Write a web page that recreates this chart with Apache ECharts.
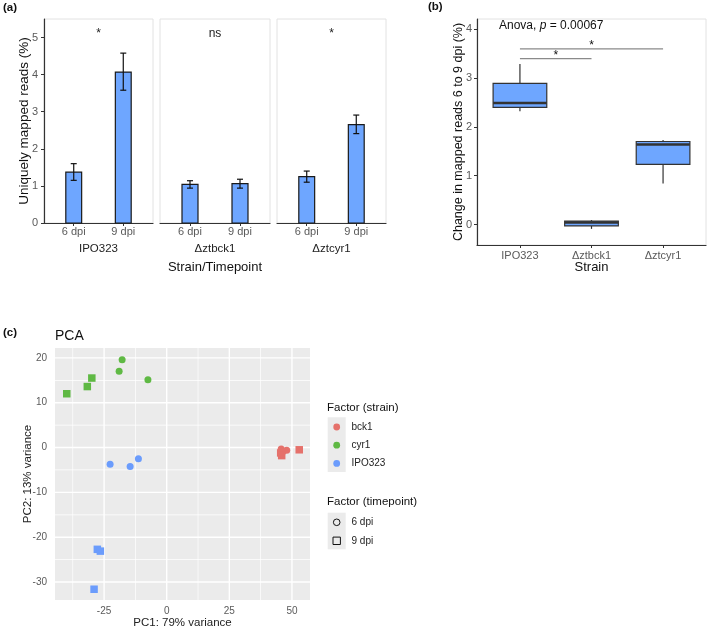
<!DOCTYPE html>
<html><head><meta charset="utf-8">
<script src="https://cdn.jsdelivr.net/npm/echarts@6/dist/echarts.min.js"></script>
<style>html,body{margin:0;padding:0;background:#fff}#c{width:709px;height:631px}</style>
</head><body><div id="c"></div>
<script>
// ---------- Panel (a) data ----------
const strains = ['IPO323', 'Δztbck1', 'Δztcyr1'];
const timepoints = ['6 dpi', '9 dpi'];
const readsMean = [[1.37, 4.07], [1.04, 1.06], [1.25, 2.65]];
const readsLow  = [[1.15, 3.58], [0.94, 0.94], [1.10, 2.41]];
const readsHigh = [[1.60, 4.58], [1.14, 1.18], [1.40, 2.91]];
const sigLabels = ['*', 'ns', '*'];
const sigLevel = 5.1;
const readsTicks = [0, 1, 2, 3, 4, 5];

// ---------- Panel (b) data ----------
const boxStrains = ['IPO323', 'Δztbck1', 'Δztcyr1'];
const boxMin    = [2.32, -0.09, 0.84];
const boxQ1     = [2.40, -0.03, 1.23];
const boxMedian = [2.49,  0.04, 1.64];
const boxQ3     = [2.89,  0.07, 1.70];
const boxMax    = [3.29,  0.09, 1.73];
const bracketFrom  = [1, 1];
const bracketTo    = [2, 3];
const bracketLevel = [3.40, 3.60];
const bracketLabel = ['*', '*'];
const changeTicks = [0, 1, 2, 3, 4];

// ---------- Panel (c) data ----------
const pcaStrain = ['cyr1','cyr1','cyr1','cyr1','cyr1','cyr1',
                   'IPO323','IPO323','IPO323','IPO323','IPO323','IPO323',
                   'bck1','bck1','bck1','bck1','bck1','bck1'];
const pcaTime = ['6 dpi','6 dpi','6 dpi','9 dpi','9 dpi','9 dpi',
                 '6 dpi','6 dpi','6 dpi','9 dpi','9 dpi','9 dpi',
                 '6 dpi','6 dpi','6 dpi','9 dpi','9 dpi','9 dpi'];
const pc1 = [-19.0, -17.8, -7.5, -39.9, -31.7, -29.9,
             -22.6, -14.6, -11.3, -27.7, -26.5, -29.0,
              45.7,  46.4, 47.9,  45.5,  45.9,  52.9];
const pc2 = [17.0, 19.6, 15.1, 12.0, 13.6, 15.5,
             -3.7, -4.2, -2.5, -22.7, -23.1, -31.6,
             -0.3, -0.9, -0.6, -1.2, -1.8, -0.5];
const legendStrains = ['bck1', 'cyr1', 'IPO323'];
const legendTimes = ['6 dpi', '9 dpi'];
const pc1Ticks = [-25, 0, 25, 50];
const pc1Minor = [-37.5, -12.5, 12.5, 37.5];
const pc2Ticks = [-30, -20, -10, 0, 10, 20];
const pc2Minor = [-25, -15, -5, 5, 15];

// ---------- styling ----------
const FONT = '"Liberation Sans", Arial, sans-serif';
const barFill = '#6ea6ff';
const tickColor = '#5a5a5a';
const axisColor = '#333';
const borderColor = '#e2e2e2';
const strainColors = {bck1: '#e5716b', cyr1: '#5fb944', IPO323: '#6b9cfc'};
const PX = [-44.6, 57.2], PY = [-34.0, 22.2];

const grids = [], xAxes = [], yAxes = [], series = [];
const facetLeft = [44, 160, 277], facetWidth = [109, 110, 109];

strains.forEach((s, i) => {
  grids.push({left: facetLeft[i], top: 19, width: facetWidth[i], height: 204,
    show: true, borderColor: borderColor, borderWidth: 1, backgroundColor: 'transparent'});
  xAxes.push({gridIndex: i, type: 'value', min: 0.4, max: 2.6,
    name: s, nameLocation: 'middle', nameGap: 20, nameMoveOverlap: false,
    nameTextStyle: {fontSize: 11.5, color: '#222', fontFamily: FONT},
    axisLine: {show: true, onZero: false, lineStyle: {color: axisColor, width: 1.2}},
    axisTick: {show: true, length: 3, customValues: [1, 2], lineStyle: {color: axisColor}},
    axisLabel: {customValues: [1, 2], formatter: v => timepoints[Math.round(v) - 1],
      color: tickColor, fontSize: 11, margin: 3, fontFamily: FONT},
    splitLine: {show: false}});
  yAxes.push({gridIndex: i, type: 'value', min: 0, max: 5.5,
    name: i === 0 ? 'Uniquely mapped reads (%)' : '', nameLocation: 'middle', nameGap: 13,
    nameMoveOverlap: false,
    nameTextStyle: {fontSize: 13.5, color: '#111', fontFamily: FONT},
    axisLine: {show: i === 0, onZero: false, lineStyle: {color: axisColor, width: 1.2}},
    axisTick: {show: i === 0, length: 3, customValues: readsTicks, lineStyle: {color: axisColor}},
    axisLabel: {show: i === 0, customValues: readsTicks, color: tickColor, fontSize: 11, margin: 6, fontFamily: FONT},
    splitLine: {show: false}});
  // bars
  series.push({type: 'custom', xAxisIndex: i, yAxisIndex: i, z: 2,
    data: timepoints.map((t, j) => [j + 1, readsMean[i][j]]),
    renderItem: (p, api) => {
      const x = api.value(0), y = api.value(1);
      const a = api.coord([x - 0.16, y]), b = api.coord([x + 0.16, 0]);
      return {type: 'rect', shape: {x: a[0], y: a[1], width: b[0] - a[0], height: b[1] - a[1]},
        style: {fill: barFill, stroke: '#1a1a1a', lineWidth: 1.2}};
    }});
  // error bars
  series.push({type: 'custom', xAxisIndex: i, yAxisIndex: i, z: 3,
    data: timepoints.map((t, j) => [j + 1, readsLow[i][j], readsHigh[i][j]]),
    renderItem: (p, api) => {
      const x = api.value(0);
      const lo = api.coord([x, api.value(1)]), hi = api.coord([x, api.value(2)]);
      const w = 3;
      const st = {stroke: '#111', lineWidth: 1.2};
      return {type: 'group', children: [
        {type: 'line', shape: {x1: lo[0], y1: lo[1], x2: hi[0], y2: hi[1]}, style: st},
        {type: 'line', shape: {x1: lo[0] - w, y1: lo[1], x2: lo[0] + w, y2: lo[1]}, style: st},
        {type: 'line', shape: {x1: hi[0] - w, y1: hi[1], x2: hi[0] + w, y2: hi[1]}, style: st}
      ]};
    }});
  // significance label
  series.push({type: 'custom', xAxisIndex: i, yAxisIndex: i, z: 3,
    data: [[1.5, sigLevel]],
    renderItem: (p, api) => {
      const c = api.coord([api.value(0), api.value(1)]);
      return {type: 'text', x: c[0], y: c[1],
        style: {text: sigLabels[i], fill: '#222', fontSize: 12, fontFamily: FONT,
          align: 'center', verticalAlign: 'middle', textAlign: 'center', textVerticalAlign: 'middle'}};
    }});
});

// ---------- Panel (b) ----------
grids.push({left: 477, top: 19, width: 229, height: 226, show: true,
  borderColor: borderColor, borderWidth: 1, backgroundColor: 'transparent'});
xAxes.push({gridIndex: 3, type: 'value', min: 0.4, max: 3.6,
  name: 'Strain', nameLocation: 'middle', nameGap: 16, nameMoveOverlap: false,
  nameTextStyle: {fontSize: 13, color: '#111', fontFamily: FONT},
  axisLine: {show: true, onZero: false, lineStyle: {color: axisColor, width: 1.2}},
  axisTick: {show: true, length: 3, customValues: [1, 2, 3], lineStyle: {color: axisColor}},
  axisLabel: {customValues: [1, 2, 3], formatter: v => boxStrains[Math.round(v) - 1],
    color: tickColor, fontSize: 11, margin: 5, fontFamily: FONT},
  splitLine: {show: false}});
yAxes.push({gridIndex: 3, type: 'value', min: -0.42, max: 4.21,
  name: 'Change in mapped reads 6 to 9 dpi (%)', nameLocation: 'middle', nameGap: 12,
  nameMoveOverlap: false,
  nameTextStyle: {fontSize: 12.5, color: '#111', fontFamily: FONT},
  axisLine: {show: true, onZero: false, lineStyle: {color: axisColor, width: 1.2}},
  axisTick: {show: true, length: 3, customValues: changeTicks, lineStyle: {color: axisColor}},
  axisLabel: {customValues: changeTicks, color: tickColor, fontSize: 11, margin: 5, fontFamily: FONT},
  splitLine: {show: false}});
series.push({type: 'custom', xAxisIndex: 3, yAxisIndex: 3, z: 2,
  data: boxStrains.map((s, k) => [k + 1, boxMin[k], boxQ1[k], boxMedian[k], boxQ3[k], boxMax[k]]),
  renderItem: (p, api) => {
    const x = api.value(0), hw = 0.375;
    const pMin = api.coord([x, api.value(1)]), pQ1 = api.coord([x, api.value(2)]);
    const pMed = api.coord([x, api.value(3)]), pQ3 = api.coord([x, api.value(4)]);
    const pMax = api.coord([x, api.value(5)]);
    const l = api.coord([x - hw, 0])[0], r = api.coord([x + hw, 0])[0];
    const st = {stroke: '#333', lineWidth: 1.2};
    return {type: 'group', children: [
      {type: 'line', shape: {x1: pMin[0], y1: pMin[1], x2: pQ1[0], y2: pQ1[1]}, style: st},
      {type: 'line', shape: {x1: pQ3[0], y1: pQ3[1], x2: pMax[0], y2: pMax[1]}, style: st},
      {type: 'rect', shape: {x: l, y: pQ3[1], width: r - l, height: pQ1[1] - pQ3[1]},
        style: {fill: barFill, stroke: '#333', lineWidth: 1.2}},
      {type: 'line', shape: {x1: l, y1: pMed[1], x2: r, y2: pMed[1]}, style: {stroke: '#333', lineWidth: 2.4}}
    ]};
  }});
series.push({type: 'custom', xAxisIndex: 3, yAxisIndex: 3, z: 3,
  data: bracketLevel.map((lv, k) => [bracketFrom[k], lv, bracketTo[k]]),
  renderItem: (p, api) => {
    const a = api.coord([api.value(0), api.value(1)]);
    const b = api.coord([api.value(2), api.value(1)]);
    return {type: 'group', children: [
      {type: 'line', shape: {x1: a[0], y1: a[1], x2: b[0], y2: b[1]}, style: {stroke: '#8a8a8a', lineWidth: 1.2}},
      {type: 'text', x: (a[0] + b[0]) / 2, y: a[1] + 3,
        style: {text: bracketLabel[p.dataIndex], fill: '#111', fontSize: 12, fontFamily: FONT,
          align: 'center', verticalAlign: 'bottom', textAlign: 'center', textVerticalAlign: 'bottom'}}
    ]};
  }});

// ---------- Panel (c) ----------
grids.push({left: 55, top: 348, width: 255, height: 252, show: false});
xAxes.push({gridIndex: 4, type: 'value', min: PX[0], max: PX[1],
  name: 'PC1: 79% variance', nameLocation: 'middle', nameGap: 17, nameMoveOverlap: false,
  nameTextStyle: {fontSize: 11.5, color: '#222', fontFamily: FONT},
  axisLine: {show: false},
  axisTick: {show: true, length: 3, customValues: pc1Ticks, lineStyle: {color: axisColor}},
  axisLabel: {customValues: pc1Ticks, color: tickColor, fontSize: 10, margin: 6, fontFamily: FONT},
  splitLine: {show: false}});
yAxes.push({gridIndex: 4, type: 'value', min: PY[0], max: PY[1],
  name: 'PC2: 13% variance', nameLocation: 'middle', nameGap: 21, nameMoveOverlap: false,
  nameTextStyle: {fontSize: 11.5, color: '#222', fontFamily: FONT},
  axisLine: {show: false},
  axisTick: {show: true, length: 3, customValues: pc2Ticks, lineStyle: {color: axisColor}},
  axisLabel: {customValues: pc2Ticks, color: tickColor, fontSize: 10, margin: 8, fontFamily: FONT},
  splitLine: {show: false}});
// panel background + grid lines, built from the axis extents and tick values
series.push({type: 'custom', xAxisIndex: 4, yAxisIndex: 4, z: 1, silent: true,
  data: [[PX[0], PY[0]]],
  renderItem: (p, api) => {
    const a = api.coord([PX[0], PY[1]]), b = api.coord([PX[1], PY[0]]);
    const kids = [{type: 'rect', shape: {x: a[0], y: a[1], width: b[0] - a[0], height: b[1] - a[1]},
      style: {fill: '#ebebeb'}}];
    const vline = (v, w) => { const c = api.coord([v, PY[0]]);
      kids.push({type: 'rect', shape: {x: c[0] - w / 2, y: a[1], width: w, height: b[1] - a[1]}, style: {fill: '#ffffff'}}); };
    const hline = (v, w) => { const c = api.coord([PX[0], v]);
      kids.push({type: 'rect', shape: {x: a[0], y: c[1] - w / 2, width: b[0] - a[0], height: w}, style: {fill: '#ffffff'}}); };
    pc1Minor.forEach(v => vline(v, 0.7));
    pc2Minor.forEach(v => hline(v, 0.7));
    pc1Ticks.forEach(v => vline(v, 1.4));
    pc2Ticks.forEach(v => hline(v, 1.4));
    return {type: 'group', children: kids};
  }});
legendStrains.forEach(s => {
  const data = [];
  pc1.forEach((x, k) => {
    if (pcaStrain[k] !== s) return;
    const sq = pcaTime[k] === '9 dpi';
    data.push({value: [x, pc2[k]], symbol: sq ? 'rect' : 'circle', symbolSize: sq ? 7.5 : 7});
  });
  series.push({type: 'scatter', name: s, xAxisIndex: 4, yAxisIndex: 4, z: 3,
    data: data, itemStyle: {color: strainColors[s], opacity: 1}});
});

// ---------- legend + labels (graphic) ----------
const graphics = [];
const txt = (x, y, text, o) => Object.assign({type: 'text', x: x, y: y,
  style: Object.assign({text: text, fill: '#111', fontSize: 11, fontFamily: FONT,
    align: 'left', verticalAlign: 'middle'}, o || {})});
graphics.push(txt(3, 8, '(a)', {fontWeight: 'bold', fontSize: 11.5}));
graphics.push(txt(428, 7, '(b)', {fontWeight: 'bold', fontSize: 11.5}));
graphics.push(txt(3, 333, '(c)', {fontWeight: 'bold', fontSize: 11.5}));
graphics.push(txt(215, 267, 'Strain/Timepoint', {fontSize: 13, align: 'center'}));
graphics.push({type: 'text', x: 499, y: 25.5, style: {
  text: '{n|Anova, }{i|p}{n| = 0.00067}', fontFamily: FONT, fontSize: 12, fill: '#111',
  align: 'left', verticalAlign: 'middle',
  rich: {n: {fontSize: 12, fontFamily: FONT, fill: '#111'}, i: {fontSize: 12, fontFamily: FONT, fontStyle: 'italic', fill: '#111'}}}});
graphics.push(txt(55, 336, 'PCA', {fontSize: 14}));
// strain legend
graphics.push(txt(327, 407.5, 'Factor (strain)', {fontSize: 11.5}));
graphics.push({type: 'rect', shape: {x: 327.7, y: 417.3, width: 18, height: 54.6}, style: {fill: '#ebebeb'}});
legendStrains.forEach((s, k) => {
  const cy = 427 + k * 18.2;
  graphics.push({type: 'circle', shape: {cx: 336.7, cy: cy, r: 3.4}, style: {fill: strainColors[s]}});
  graphics.push(txt(351.5, cy, s, {fontSize: 10, fill: '#222'}));
});
// timepoint legend
graphics.push(txt(327, 502, 'Factor (timepoint)', {fontSize: 11.5}));
graphics.push({type: 'rect', shape: {x: 327.7, y: 512.7, width: 18, height: 36.6}, style: {fill: '#ebebeb'}});
legendTimes.forEach((t, k) => {
  const cy = 522.3 + k * 18.5;
  if (k === 0) graphics.push({type: 'circle', shape: {cx: 336.7, cy: cy, r: 3.3}, style: {fill: 'none', stroke: '#111', lineWidth: 1}});
  else graphics.push({type: 'rect', shape: {x: 333, y: cy - 3.7, width: 7.4, height: 7.4}, style: {fill: 'none', stroke: '#111', lineWidth: 1}});
  graphics.push(txt(351.5, cy, t, {fontSize: 10, fill: '#222'}));
});

const chart = echarts.init(document.getElementById('c'), null, {renderer: 'canvas'});
chart.setOption({
  animation: false,
  backgroundColor: '#ffffff',
  textStyle: {fontFamily: FONT},
  grid: grids, xAxis: xAxes, yAxis: yAxes, series: series, graphic: graphics
});
</script></body></html>
